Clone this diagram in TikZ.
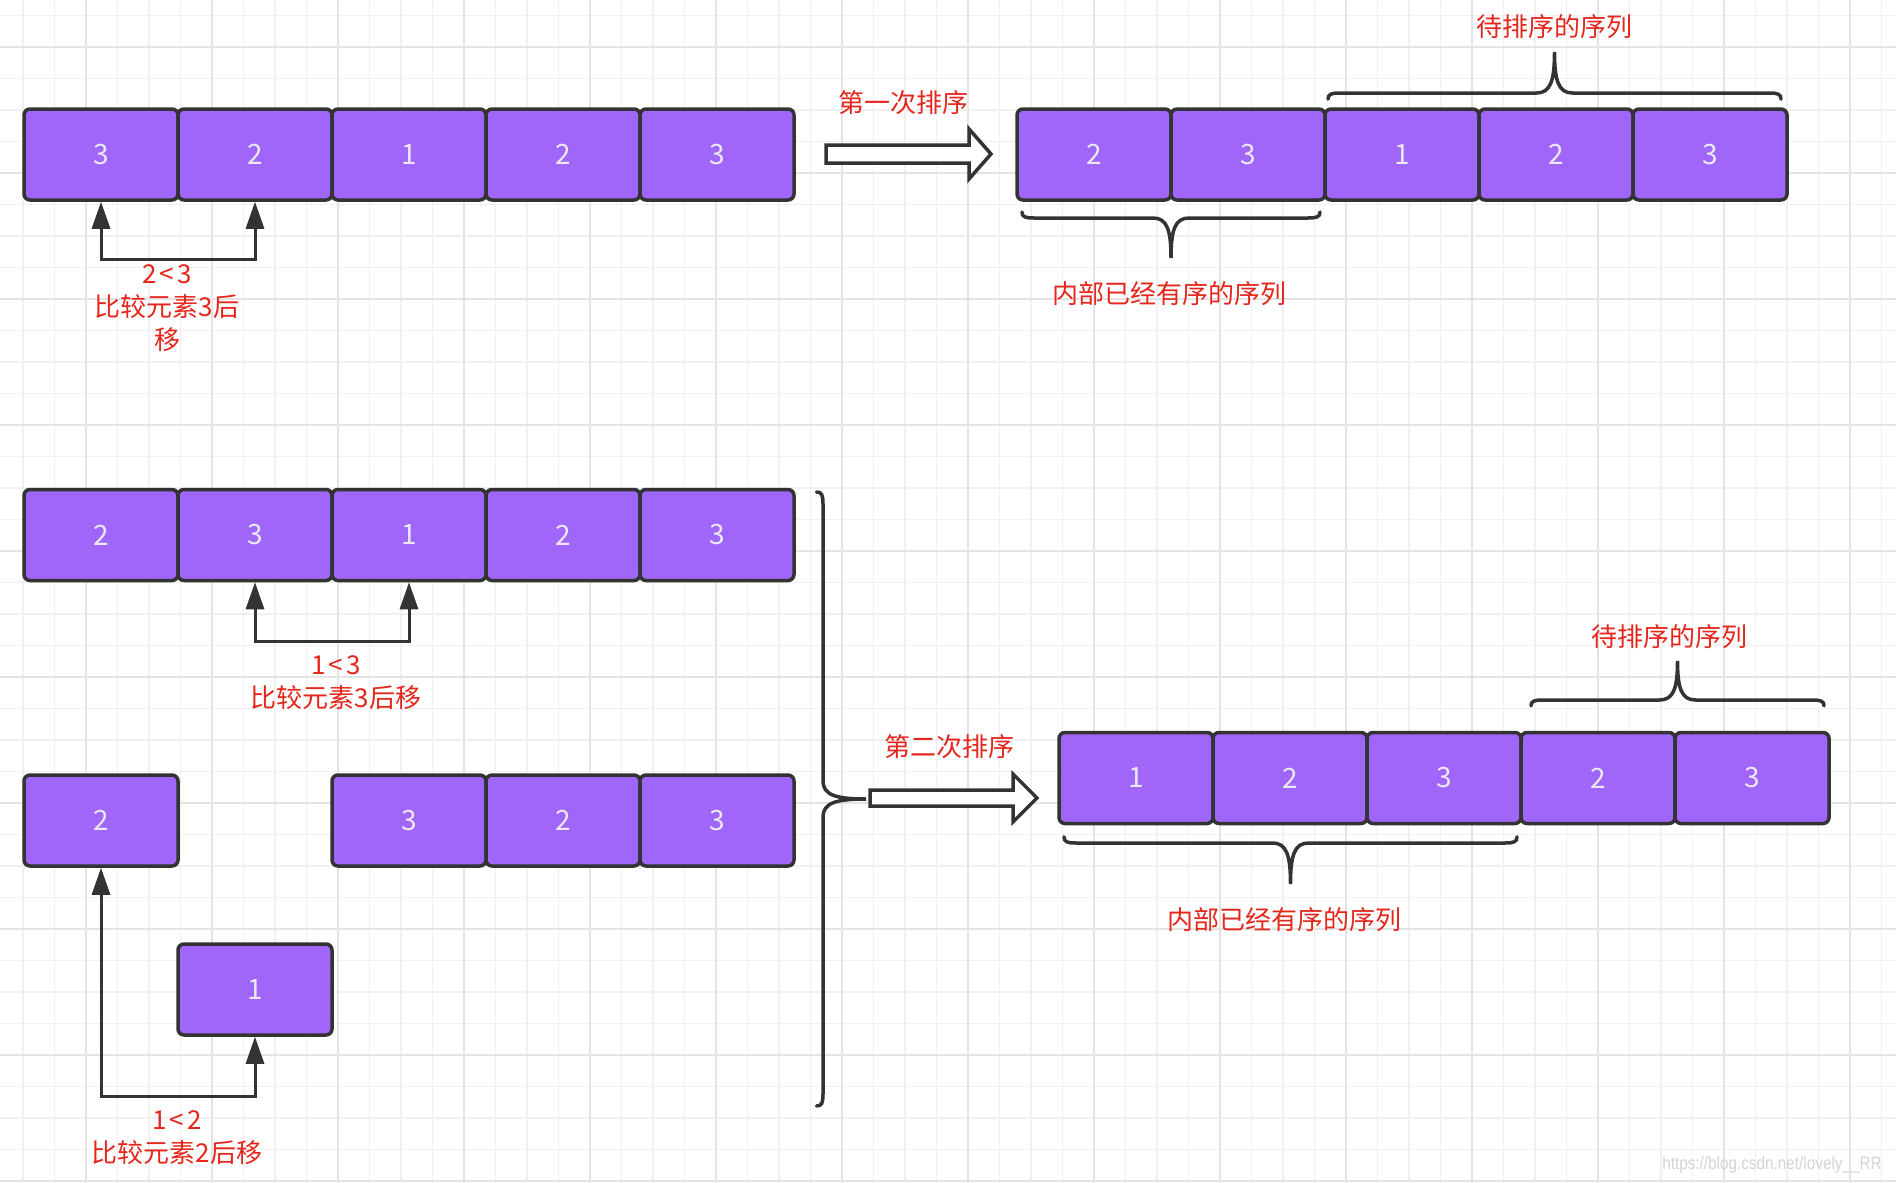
\documentclass[tikz,border=0pt]{standalone}
\usepackage{fontspec}
\setmainfont{Noto Sans CJK SC}
\newfontfamily\wmfont{Liberation Sans}
\usetikzlibrary{arrows.meta}
\definecolor{boxfill}{RGB}{160,102,250}
\definecolor{boxline}{RGB}{51,51,51}
\definecolor{txtred}{RGB}{228,38,28}
\definecolor{gridminor}{RGB}{240,240,240}
\definecolor{gridmajor}{RGB}{228,228,228}
\definecolor{numtxt}{RGB}{236,232,242}
\definecolor{wmgray}{RGB}{212,212,212}
\tikzset{
  cell/.style={draw=boxline, line width=3.5pt, fill=boxfill, rounded corners=6pt,
    minimum width=154pt, minimum height=91pt, inner sep=0pt, text=numtxt,
    font=\fontsize{28}{30}\selectfont},
  lbl/.style={text=txtred, font=\fontsize{26}{33}\selectfont, align=center, inner sep=0pt},
  conn/.style={draw=boxline, line width=3pt,
    {Triangle[length=27pt,width=18pt]}-{Triangle[length=27pt,width=18pt]}},
  hollow/.style={draw=boxline, line width=3.5pt, fill=white, line join=miter},
  bracestyle/.style={draw=boxline, line width=3.5pt, line cap=round},
  gminor/.style={draw=gridminor, line width=1.6pt},
  gmajor/.style={draw=gridmajor, line width=1.8pt},
  wmstyle/.style={text=wmgray, font=\wmfont\fontsize{18}{20}\selectfont, inner sep=0pt}
}
\newcommand\hbrace[4]{%
  \draw[bracestyle] ({#1},{#3-0.15*(#4-#3)}) .. controls ({#1},{#3-0.03*(#4-#3)}) and ({#1+3},{#3}) .. ({#1+12},{#3})
  -- ({(#1+#2)/2-18},{#3}) .. controls ({(#1+#2)/2-4},{#3}) and ({(#1+#2)/2},{#3+0.3*(#4-#3)}) .. ({(#1+#2)/2},{#4})
  .. controls ({(#1+#2)/2},{#3+0.3*(#4-#3)}) and ({(#1+#2)/2+4},{#3}) .. ({(#1+#2)/2+18},{#3})
  -- ({#2-12},{#3}) .. controls ({#2-3},{#3}) and ({#2},{#3-0.03*(#4-#3)}) .. ({#2},{#3-0.15*(#4-#3)});}
\newcommand\vbrace[4]{%
  \draw[bracestyle] ({#3-0.15*(#4-#3)},{#1}) .. controls ({#3-0.03*(#4-#3)},{#1}) and ({#3},{#1+3}) .. ({#3},{#1+12})
  -- ({#3},{(#1+#2)/2-18}) .. controls ({#3},{(#1+#2)/2-4}) and ({#3+0.3*(#4-#3)},{(#1+#2)/2}) .. ({#4},{(#1+#2)/2})
  .. controls ({#3+0.3*(#4-#3)},{(#1+#2)/2}) and ({#3},{(#1+#2)/2+4}) .. ({#3},{(#1+#2)/2+18})
  -- ({#3},{#2-12}) .. controls ({#3},{#2-3}) and ({#3-0.03*(#4-#3)},{#2}) .. ({#3-0.15*(#4-#3)},{#2});}
\newcommand\lt{\kern3pt<\kern3pt}
\begin{document}
\begin{tikzpicture}[x=1pt,y=-1pt]
\useasboundingbox (0,0) rectangle (1896,1183);
\fill[white] (0,0) rectangle (1896,1183);
% grid
\foreach \k in {0,...,59} {\draw[gminor] ({23+31.5*\k},0) -- ({23+31.5*\k},1183);}
\foreach \k in {0,...,37} {\draw[gminor] (0,{15.5+31.5*\k}) -- (1896,{15.5+31.5*\k});}
\foreach \m in {0,...,14} {\draw[gmajor] ({86+126*\m},0) -- ({86+126*\m},1183);}
\foreach \m in {0,...,9} {\draw[gmajor] (0,{47+126*\m}) -- (1896,{47+126*\m});}

% row 1 left
\node[cell] (r1a) at (101,154.5) {3};
\node[cell] (r1b) at (255,154.5) {2};
\node[cell] (r1c) at (409,154.5) {1};
\node[cell] (r1d) at (563,154.5) {2};
\node[cell] (r1e) at (717,154.5) {3};
% row 1 right
\node[cell] (s1a) at (1094,154.5) {2};
\node[cell] (s1b) at (1248,154.5) {3};
\node[cell] (s1c) at (1402,154.5) {1};
\node[cell] (s1d) at (1556,154.5) {2};
\node[cell] (s1e) at (1710,154.5) {3};
% row 2
\node[cell] (r2a) at (101,535) {2};
\node[cell] (r2b) at (255,535) {3};
\node[cell] (r2c) at (409,535) {1};
\node[cell] (r2d) at (563,535) {2};
\node[cell] (r2e) at (717,535) {3};
% row 3
\node[cell] (r3a) at (101,820.5) {2};
\node[cell] (r3c) at (409,820.5) {3};
\node[cell] (r3d) at (563,820.5) {2};
\node[cell] (r3e) at (717,820.5) {3};
\node[cell] (r3one) at (255,989.5) {1};
% row 4
\node[cell] (s4a) at (1136,778) {1};
\node[cell] (s4b) at (1290,778) {2};
\node[cell] (s4c) at (1444,778) {3};
\node[cell] (s4d) at (1598,778) {2};
\node[cell] (s4e) at (1752,778) {3};

% comparison connectors
\draw[conn] (r1a.south) -- ++(0,58) -| (r1b.south);
\draw[conn] (r2b.south) -- ++(0,59) -| (r2c.south);
\draw[conn] (r3one.south) -- ++(0,60) -| (r3a.south);

% labels
\node[lbl] (l1) at (167,308) {2\lt3\\比较元素3后\\移};
\node[lbl] (l2) at (336,683) {1\lt3\\比较元素3后移};
\node[lbl] (l3) at (177,1138) {1\lt2\\比较元素2后移};
\node[lbl] (t1) at (903,103) {第一次排序};
\node[lbl] (t2) at (949,747) {第二次排序};
\node[lbl] (w1) at (1554,27) {待排序的序列};
\node[lbl] (w2) at (1669,637) {待排序的序列};
\node[lbl] (n1) at (1169,294) {内部已经有序的序列};
\node[lbl] (n2) at (1284,920) {内部已经有序的序列};

% hollow arrows
\draw[hollow] (826,145) -- (969,145) -- (969,129) -- (991,154) -- (969,179) -- (969,163) -- (826,163) -- cycle;
\draw[hollow] (870,790) -- (1013,790) -- (1013,774) -- (1037,798) -- (1013,822) -- (1013,806) -- (870,806) -- cycle;

% braces
\hbrace{1328}{1781}{93}{52}
\hbrace{1022}{1320}{218}{258}
\hbrace{1531}{1824}{700}{661}
\hbrace{1064}{1517}{843}{884}
\vbrace{492}{1106}{823}{866}

% watermark
\node[wmstyle] (wm) at (1772,1165) {\scalebox{0.85}[1]{https://blog.csdn.net/lovely\_\_RR}};
\end{tikzpicture}
\end{document}
